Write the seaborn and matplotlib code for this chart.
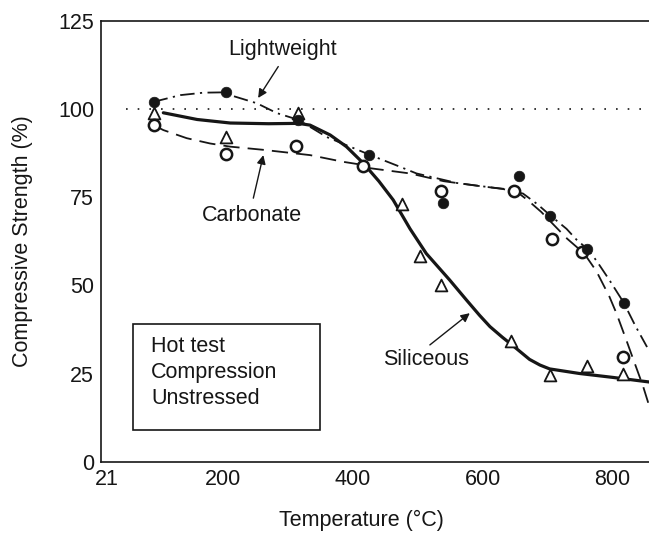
import matplotlib
matplotlib.use("Agg")
import matplotlib.pyplot as plt
import seaborn as sns
from matplotlib.patches import Rectangle

# ---------------- data ----------------
# measured points
light_t = [93, 204, 316, 425, 538, 656, 704, 761, 817]
light_v = [102.0, 104.7, 96.9, 86.9, 73.2, 81.0, 69.6, 60.3, 45.1]

carb_t = [93, 204, 312, 415, 536, 648, 706, 753, 816]
carb_v = [95.4, 87.2, 89.5, 83.8, 76.7, 76.7, 63.0, 59.5, 29.6]

sil_t = [93, 204, 316, 476, 503, 535, 643, 703, 760, 816]
sil_v = [98.7, 92.1, 98.9, 73.0, 58.3, 50.1, 34.2, 24.6, 27.1, 25.0]

# hand-drawn trend curves (traced)
sil_curve_t = [108, 160, 211, 270, 316, 334, 365, 390, 416, 440, 462, 488, 513,
               549, 575, 595, 611, 630, 647, 672, 688, 703, 749, 800, 856]
sil_curve_v = [98.9, 97.0, 96.0, 95.8, 95.9, 95.4, 92.6, 89.3, 84.6, 79.5, 74.2,
               66.0, 59.0, 51.5, 45.8, 41.5, 38.3, 35.3, 32.8, 29.0, 27.4, 26.3,
               25.0, 23.9, 22.6]

light_curve_t = [93, 134, 170, 204, 211, 252, 283, 316, 360, 427, 467, 498, 560,
                 631, 662, 684, 704, 729, 744, 761, 775, 795, 817, 835, 853]
light_curve_v = [102.0, 103.9, 104.6, 104.7, 103.9, 101.6, 98.8, 96.9, 92.0, 86.9,
                 84.0, 81.7, 79.0, 77.3, 76.0, 73.0, 69.8, 66.0, 63.0, 60.3, 57.0,
                 51.5, 45.1, 38.5, 32.5]

carb_curve_t = [93, 108, 144, 180, 211, 262, 334, 385, 416, 426, 488, 540, 600,
                649, 670, 690, 710, 730, 750, 760, 775, 795, 806, 821, 847, 856]
carb_curve_v = [95.4, 94.0, 91.7, 90.2, 89.3, 88.4, 86.9, 85.0, 84.1, 83.2, 81.7,
                79.5, 78.0, 77.0, 74.0, 70.8, 67.0, 63.2, 60.0, 58.0, 54.0, 46.8,
                42.0, 34.5, 21.3, 16.0]

ref_t = [50, 856]
ref_v = [100, 100]

x_ticks = [200, 400, 600, 800]
x_ticklabels = ["200", "400", "600", "800"]
y_ticks = [0, 25, 50, 75, 100, 125]
y_ticklabels = ["0", "25", "50", "75", "100", "125"]

# ---------------- style ----------------
sns.set_theme(style="white")
plt.rcParams["font.family"] = ["Liberation Sans", "DejaVu Sans"]
FS = 15.5
INK = "#161616"

fig = plt.figure(figsize=(6.49, 5.33), dpi=100)
ax = fig.add_axes([101 / 649, 71.3 / 533, 548 / 649, 441 / 533])

# reference dotted line at 100 %
sns.lineplot(x=ref_t, y=ref_v, ax=ax, color=INK, lw=1.2,
             linestyle=(0, (1, 6)), sort=False)

# curves
sns.lineplot(x=carb_curve_t, y=carb_curve_v, ax=ax, color=INK, lw=1.3,
             linestyle=(0, (9, 4.5)), sort=False)
sns.lineplot(x=light_curve_t, y=light_curve_v, ax=ax, color=INK, lw=1.3,
             linestyle=(0, (8, 3, 1.2, 3)), sort=False)
sns.lineplot(x=sil_curve_t, y=sil_curve_v, ax=ax, color=INK, lw=2.3,
             sort=False)

# points
sns.scatterplot(x=sil_t, y=sil_v, ax=ax, marker="^", s=72, color="white",
                edgecolor=INK, linewidth=1.3, zorder=4)
sns.scatterplot(x=carb_t, y=carb_v, ax=ax, marker="o", s=66, color="white",
                edgecolor=INK, linewidth=1.8, zorder=5)
sns.scatterplot(x=light_t, y=light_v, ax=ax, marker="o", s=58, color=INK,
                edgecolor=INK, linewidth=0.5, zorder=6)

# axes
ax.set_xlim(12, 856)
ax.set_ylim(0, 125)
ax.set_xticks(x_ticks)
ax.set_xticklabels(x_ticklabels)
ax.set_xticks([21], minor=True)
ax.set_xticklabels(["21"], minor=True)
ax.set_yticks(y_ticks)
ax.set_yticklabels(y_ticklabels)
ax.tick_params(axis="both", which="major", direction="in", length=9,
               width=1.1, colors=INK, labelsize=FS)
ax.tick_params(axis="x", which="major", pad=5)
ax.tick_params(axis="y", which="major", pad=5)
ax.tick_params(axis="x", which="minor", length=0, labelsize=FS, pad=5,
               labelcolor=INK)
for side in ["left", "bottom", "top"]:
    ax.spines[side].set_visible(True)
    ax.spines[side].set_color(INK)
    ax.spines[side].set_linewidth(1.2)
ax.spines["right"].set_visible(False)
ax.set_xlabel("")
ax.set_ylabel("")

fig.text(23 / 649, 1 - 241 / 533, "Compressive Strength (%)", rotation=90,
         ha="center", va="center", fontsize=FS, color=INK)
fig.text(361 / 649, 1 - 520 / 533, "Temperature (°C)", ha="center",
         va="center", fontsize=FS, color=INK)

# annotations
arrow = dict(arrowstyle="-|>", color=INK, lw=1.0, mutation_scale=13,
             shrinkA=0, shrinkB=0)
ax.text(292, 116.7, "Lightweight", ha="center", va="center", fontsize=FS,
        color=INK)
ax.annotate("", xy=(254, 103.1), xytext=(285, 112), arrowprops=arrow)
ax.text(245, 69.9, "Carbonate", ha="center", va="center", fontsize=FS,
        color=INK)
ax.annotate("", xy=(262, 86.9), xytext=(246.6, 74.7), arrowprops=arrow)
ax.text(512, 29.1, "Siliceous", ha="center", va="center", fontsize=FS,
        color=INK)
ax.annotate("", xy=(580, 42.1), xytext=(518.5, 33.1), arrowprops=arrow)

# condition box
ax.add_patch(Rectangle((61, 9.0), 289, 30.0, fill=False, edgecolor=INK,
                       lw=1.2, zorder=3))
for yy, line in zip([32.6, 25.2, 17.9], ["Hot test", "Compression", "Unstressed"]):
    ax.text(89, yy, line, ha="left", va="center", fontsize=FS, color=INK)

fig.savefig("out.png", dpi=100)
